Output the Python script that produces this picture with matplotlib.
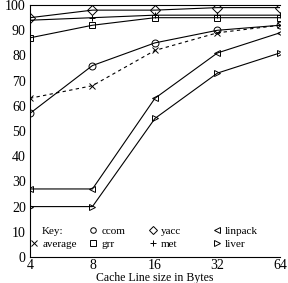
import matplotlib.pyplot as plt
from matplotlib.lines import Line2D
from matplotlib.legend import Legend

plt.rcParams['font.family'] = ['Liberation Serif', 'DejaVu Serif']

line_sizes = [4, 8, 16, 32, 64]
ccom = [57, 76, 85, 90, 92]
yacc = [95, 98, 98, 99, 99]
linpack = [27, 27, 63, 81, 89]
average = [63, 68, 82, 89, 92]
grr = [87, 92, 95, 95, 95]
met = [94, 95, 96, 96, 96]
liver = [20, 20, 55, 73, 81]

fig = plt.figure(figsize=(2.88, 2.83), dpi=100)
ax = fig.add_axes([0.104, 0.092, 0.868, 0.89])

kw = dict(color='black', lw=0.8, ms=5, mfc='none', mew=0.7)
ax.plot(line_sizes, ccom, marker='o', **kw)
ax.plot(line_sizes, yacc, marker='D', **kw)
ax.plot(line_sizes, linpack, marker='<', **kw)
ax.plot(line_sizes, average, marker='x', ls=(0, (3, 3)), **kw)
ax.plot(line_sizes, grr, marker='s', **kw)
ax.plot(line_sizes, met, marker='+', **kw)
ax.plot(line_sizes, liver, marker='>', **kw)

ax.set_xscale('log', base=2)
ax.set_xlim(4, 64)
ax.set_ylim(0, 100)
ax.set_xticks(line_sizes)
ax.set_xticklabels([str(v) for v in line_sizes])
ax.set_yticks(range(0, 101, 10))
ax.minorticks_off()
ax.tick_params(length=0, labelsize=10, pad=1.5)
ax.tick_params(axis='y', pad=3)
ax.spines['right'].set_visible(False)
for s in ['left', 'bottom', 'top']:
    ax.spines[s].set_linewidth(0.8)
ax.set_xlabel('Cache Line size in Bytes', fontsize=8.5, labelpad=0)

# key: four columns, two rows each
def mk(m):
    if m is None:
        return Line2D([], [], ls='none')
    return Line2D([], [], ls='none', marker=m, color='black', mfc='none', ms=4, mew=0.7)

columns = [
    ([None, 'x'], ['Key:', 'average'], 0.0),
    (['o', 's'], ['ccom', 'grr'], 0.236),
    (['D', '+'], ['yacc', 'met'], 0.476),
    (['<', '>'], ['linpack', 'liver'], 0.732),
]
for markers, labels, xpos in columns:
    leg = Legend(ax, [mk(m) for m in markers], labels, loc='center left',
                 bbox_to_anchor=(xpos, 0.077), frameon=False, fontsize=8,
                 handlelength=0.7, handletextpad=0.4, labelspacing=0.25,
                 borderpad=0, borderaxespad=0)
    ax.add_artist(leg)

fig.savefig('out.png', dpi=100)
